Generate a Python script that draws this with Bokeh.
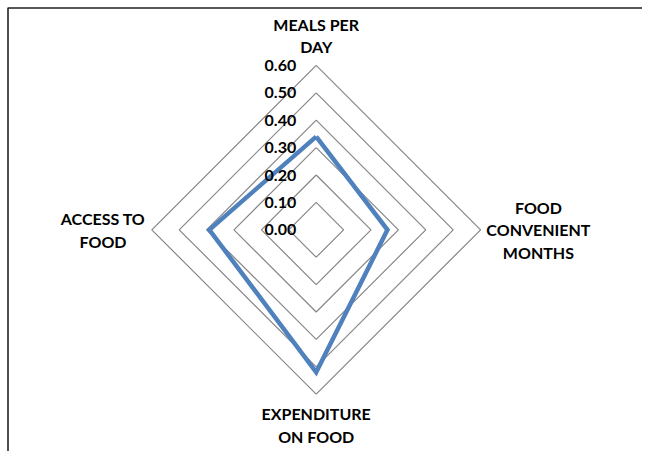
import math
from bokeh.plotting import figure
from bokeh.models import Range1d
from bokeh.core.properties import value
from bokeh.embed import file_html
from bokeh.resources import INLINE

# ---- data ----
categories = ["MEALS PER\nDAY", "FOOD\nCONVENIENT\nMONTHS", "EXPENDITURE\nON FOOD", "ACCESS TO\nFOOD"]
values = [0.34, 0.26, 0.52, 0.39]
ticks = [0.0, 0.1, 0.2, 0.3, 0.4, 0.5, 0.6]
tick_labels = ["0.00", "0.10", "0.20", "0.30", "0.40", "0.50", "0.60"]

W, H = 642, 451
PX = 274.0              # pixels per data unit
cx_img, cy_img = 315.7, 229.3
x0 = (0 - cx_img) / PX
x1 = (W - cx_img) / PX
y1 = cy_img / PX
y0 = (cy_img - H) / PX

p = figure(width=W, height=H, output_backend="svg", toolbar_location=None,
           x_range=Range1d(x0, x1), y_range=Range1d(y0, y1), min_border=0)
p.axis.visible = False
p.xgrid.visible = False
p.ygrid.visible = False
p.outline_line_color = None
p.background_fill_color = "white"

n = len(categories)
angles = [math.pi / 2 - 2 * math.pi * i / n for i in range(n)]

# grid rings
for t in ticks[1:]:
    xs = [t * math.cos(a) for a in angles] + [t * math.cos(angles[0])]
    ys = [t * math.sin(a) for a in angles] + [t * math.sin(angles[0])]
    p.line(xs, ys, line_color="#868686", line_width=1.2)

# data polygon
xs = [v * math.cos(a) for v, a in zip(values, angles)]
ys = [v * math.sin(a) for v, a in zip(values, angles)]
p.line(xs + [xs[0]], ys + [ys[0]], line_color="#4F81BD", line_width=4.5, line_join="miter")

# tick labels
p.text(x=[-20 / PX] * len(ticks), y=ticks, text=tick_labels,
       text_font=value("Lato"), text_font_style="bold", text_font_size="16px",
       text_color="black", text_align="right", text_baseline="middle")

# category labels
label_r = [0.709, 0.811, 0.712, 0.778]
line_gap = 22.6 / PX
lx, ly, lt = [], [], []
for cat, a, r in zip(categories, angles, label_r):
    lines = cat.split("\n")
    cxl = r * math.cos(a)
    cyl = r * math.sin(a)
    k = len(lines)
    for j, ln in enumerate(lines):
        lx.append(cxl)
        ly.append(cyl + ((k - 1) / 2 - j) * line_gap)
        lt.append(ln)
p.text(x=lx, y=ly, text=lt, text_font=value("Lato"), text_font_style="bold",
       text_font_size="16px", text_color="black", text_align="center", text_baseline="middle")

# chart border (left and top visible)
bx = x0 + 7.5 / PX
by = y1 - 7.5 / PX
p.line([bx, bx, x1 + 1], [y0 - 1, by, by], line_color="#222222", line_width=1.6)

open("out.html", "w").write(file_html(p, INLINE))
